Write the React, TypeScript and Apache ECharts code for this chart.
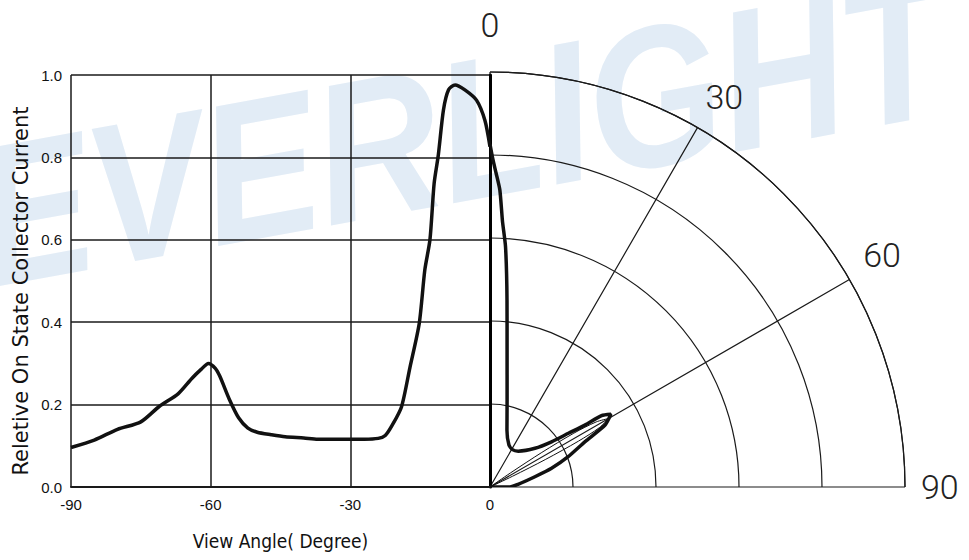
import React, { useEffect, useRef } from "react";
import * as echarts from "echarts";

// Left (cartesian) curve: view angle (deg) vs relative current
const leftAngles = [-90, -85, -80, -75, -71, -67, -64, -62, -60.5, -59, -58, -56, -54, -52, -50, -47, -44, -40, -37, -33, -30, -27, -24, -22.5, -21, -19, -17.2, -15.2, -14, -12.9, -12, -11.1, -10, -8.9, -7.5, -5.4, -2.9, -1.1, 0];
const leftValues = [0.096, 0.114, 0.14, 0.158, 0.196, 0.226, 0.264, 0.286, 0.3, 0.288, 0.268, 0.213, 0.168, 0.143, 0.133, 0.127, 0.122, 0.119, 0.116, 0.116, 0.116, 0.116, 0.118, 0.125, 0.15, 0.195, 0.29, 0.397, 0.527, 0.6, 0.737, 0.806, 0.915, 0.964, 0.976, 0.964, 0.939, 0.89, 0.826];

// Right (polar) thick curve: radius and angle (deg from vertical, clockwise)
const thickR = [0.826, 0.79, 0.757, 0.716, 0.64, 0.58, 0.452, 0.333, 0.214, 0.143, 0.111, 0.105, 0.11, 0.143, 0.184, 0.229, 0.273, 0.319, 0.34, 0.315, 0.254, 0.202, 0.155, 0.111, 0.068, 0.048, 0];
const thickA = [0, 0.5, 1.1, 1.9, 2.7, 3.7, 5.2, 7.1, 11.1, 16.6, 24.3, 31, 38.2, 49.3, 53.7, 55.6, 56.9, 57.4, 59, 61.7, 64.5, 68.8, 73.1, 77.1, 84.5, 90, 90];

// Right (polar) thin inner lobe
const thinR = [0, 0.06, 0.15, 0.24, 0.3, 0.33, 0.3, 0.24, 0.15, 0.06, 0];
const thinA = [56, 55.5, 56.3, 57.3, 58.5, 60, 61.5, 62.6, 63.6, 64.5, 64];

const xTicks = [-90, -60, -30, 0];
const yTicks = [0, 0.2, 0.4, 0.6, 0.8, 1.0];
const angleTicks = [0, 30, 60, 90];

const xName = "View Angle( Degree)";
const yName = "Reletive On State Collector Current";
const watermark = "EVERLIGHT";

export default function App() {
  const ref = useRef<HTMLDivElement>(null);
  useEffect(() => {
    const chart = echarts.init(ref.current as HTMLDivElement, null, { renderer: "svg" });
    const lineColor = "#1a1a1a";
    const tickFont = '"Liberation Sans", Arial, sans-serif';
    chart.setOption({
      animation: false,
      backgroundColor: "#ffffff",
      graphic: [
        {
          type: "text",
          z: -10,
          x: -5,
          y: 318,
          rotation: 0.18,
          scaleX: 0.86,
          style: {
            text: watermark,
            fill: "#e2ecf6",
            font: 'italic bold 200px "Liberation Sans", Arial, sans-serif',
            textVerticalAlign: "bottom",
          },
        },
      ],
      grid: { left: 71, top: 75, width: 419, height: 412 },
      xAxis: {
        type: "value",
        min: xTicks[0],
        max: xTicks[xTicks.length - 1],
        interval: 30,
        name: xName,
        nameLocation: "middle",
        nameGap: 44,
        nameTextStyle: { fontSize: 19, color: "#111", fontFamily: '"Liberation Sans Narrow", "DejaVu Sans Condensed", "Liberation Sans", sans-serif' },
        axisLine: { show: true, lineStyle: { color: lineColor, width: 2 } },
        axisTick: { show: false },
        axisLabel: { fontSize: 15, color: "#111", margin: 10, fontFamily: tickFont },
        splitLine: { show: true, lineStyle: { color: lineColor, width: 1.5 } },
      },
      yAxis: [
        {
          type: "value",
          min: yTicks[0],
          max: yTicks[yTicks.length - 1],
          interval: 0.2,
          name: yName,
          nameLocation: "middle",
          nameRotate: 90,
          nameGap: 40,
          nameTextStyle: { fontSize: 21, color: "#111", fontFamily: '"DejaVu Sans", sans-serif', padding: [0, 20, 0, 0] },
          axisLine: { show: true, lineStyle: { color: lineColor, width: 2 } },
          axisTick: { show: false },
          axisLabel: {
            fontSize: 15,
            color: "#111",
            margin: 9,
            fontFamily: tickFont,
            formatter: (v: number) => v.toFixed(1),
          },
          splitLine: { show: true, lineStyle: { color: lineColor, width: 1.5 } },
        },
        {
          type: "value",
          position: "right",
          min: 0,
          max: 1,
          interval: 0.2,
          axisLine: { show: true, onZero: false, lineStyle: { color: "#000", width: 3 } },
          axisTick: { show: false },
          axisLabel: { show: false },
          splitLine: { show: false },
        },
      ],
      polar: { center: [490, 487], radius: 415 },
      angleAxis: {
        type: "value",
        min: angleTicks[0],
        max: angleTicks[angleTicks.length - 1],
        interval: 30,
        startAngle: 90,
        endAngle: 0,
        clockwise: true,
        axisLine: { show: true, lineStyle: { color: lineColor, width: 1.2 } },
        axisTick: { show: false },
        axisLabel: {
          show: true,
          margin: 16,
          color: "#222",
          fontSize: 34,
          fontFamily: "Roboto, sans-serif",
          fontWeight: 300,
          formatter: (v: number) => (v === 0 ? `{top|${v}}` : `{n|${v}}`),
          rich: {
            top: { fontSize: 34, fontFamily: "Roboto, sans-serif", fontWeight: 300, color: "#222", padding: [0, 0, 14, 0] },
            n: { fontSize: 34, fontFamily: "Roboto, sans-serif", fontWeight: 300, color: "#222" },
          },
        },
        splitLine: { show: true, lineStyle: { color: lineColor, width: 1.2 } },
      },
      radiusAxis: {
        type: "value",
        min: 0,
        max: 1,
        interval: 0.2,
        axisLine: { show: false },
        axisTick: { show: false },
        axisLabel: { show: false },
        splitLine: { show: true, lineStyle: { color: lineColor, width: 1.2 } },
      },
      series: [
        {
          type: "line",
          xAxisIndex: 0,
          yAxisIndex: 0,
          data: leftAngles.map((a, i) => [a, leftValues[i]]),
          symbol: "none",
          smooth: 0.25,
          lineStyle: { color: "#111", width: 3.5 },
          z: 5,
        },
        {
          type: "line",
          coordinateSystem: "polar",
          data: thickR.map((r, i) => [r, thickA[i]]),
          symbol: "none",
          smooth: 0.2,
          lineStyle: { color: "#111", width: 3.5 },
          z: 5,
        },
        {
          type: "line",
          coordinateSystem: "polar",
          data: thinR.map((r, i) => [r, thinA[i]]),
          symbol: "none",
          smooth: 0.3,
          lineStyle: { color: "#111", width: 1 },
          z: 5,
        },
      ],
    });
    return () => chart.dispose();
  }, []);
  return (
    <div
      ref={ref}
      style={{ position: "fixed", left: 0, top: 0, width: 969, height: 560, background: "#fff" }}
    />
  );
}
